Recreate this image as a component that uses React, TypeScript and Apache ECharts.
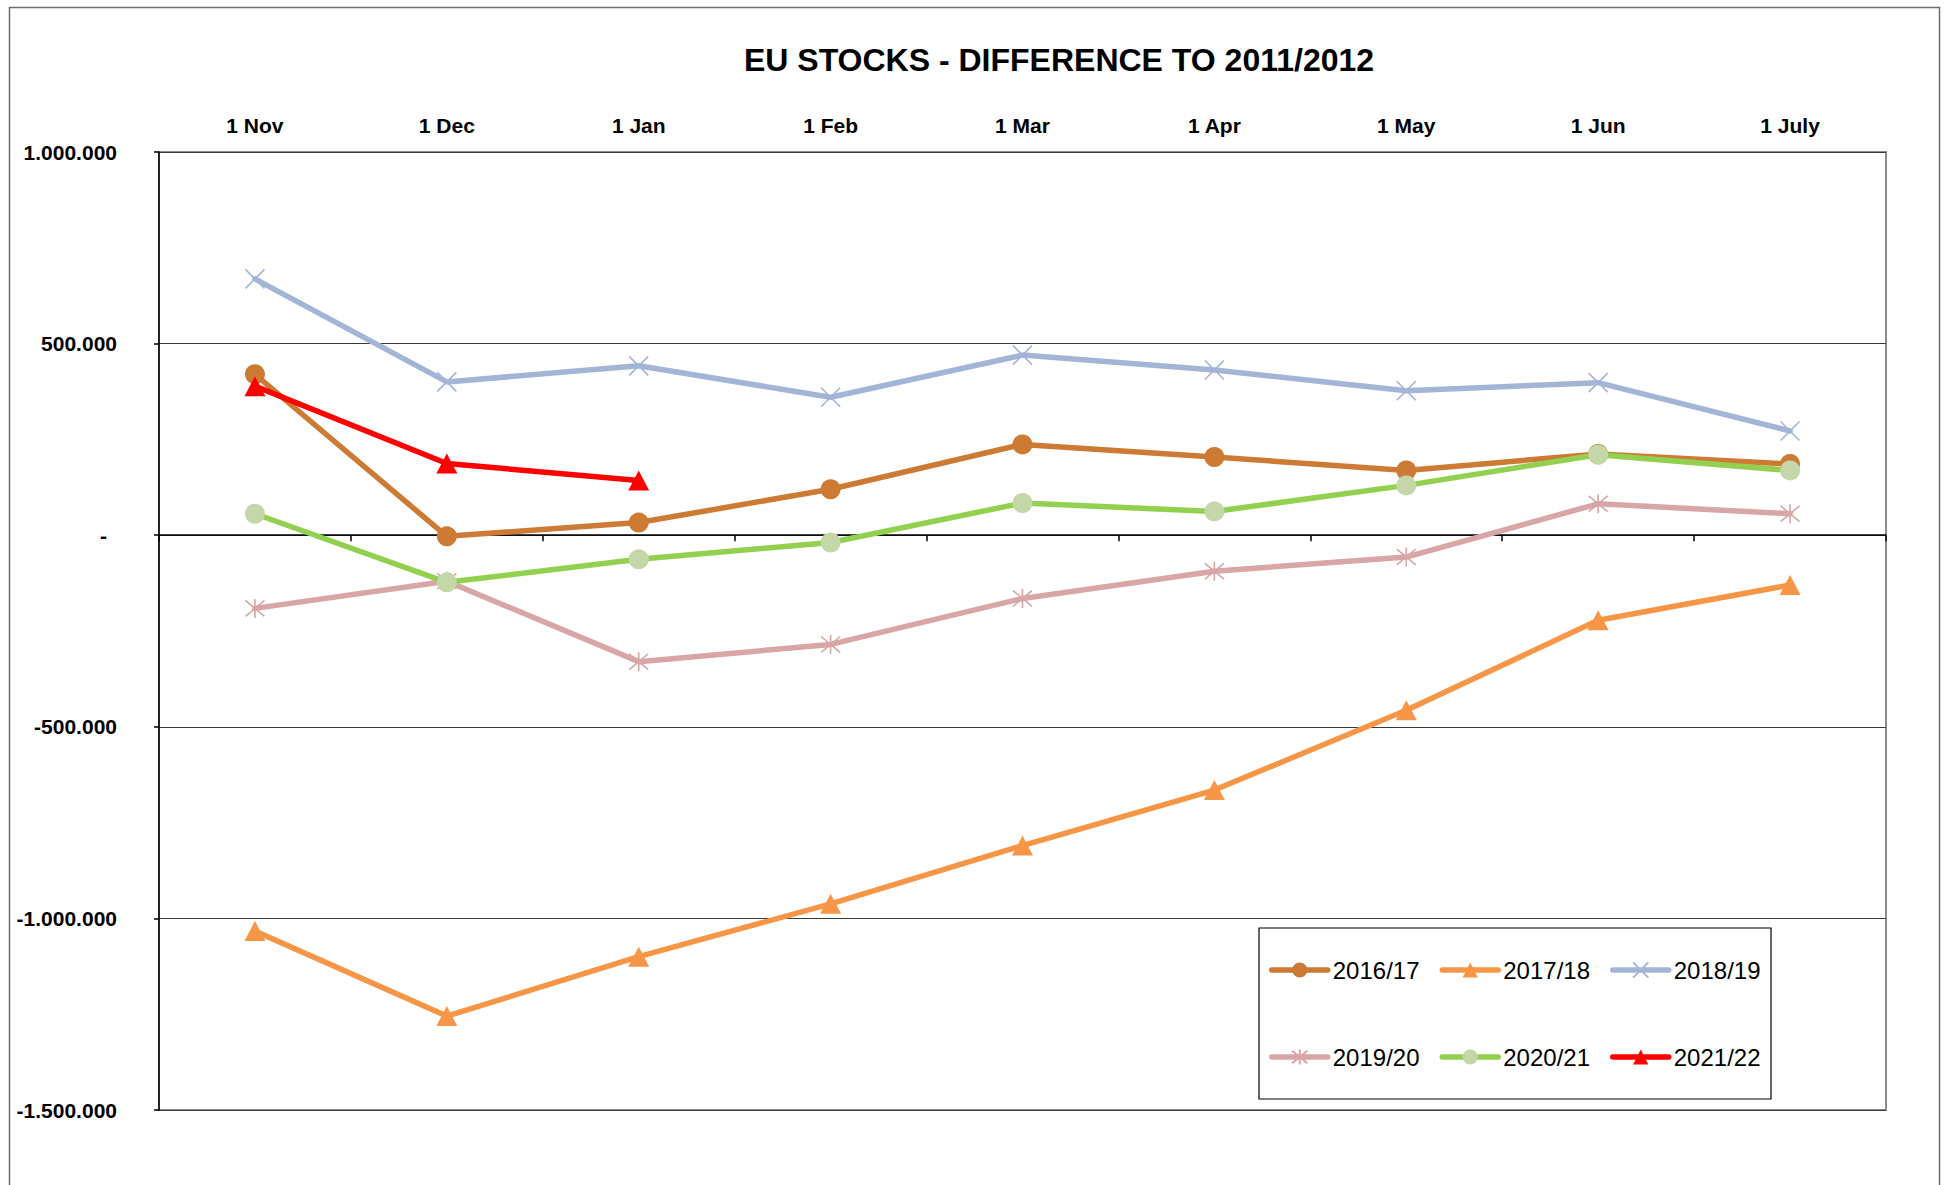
import React, { useEffect, useRef } from "react";
import * as echarts from "echarts";

const TITLE = "EU STOCKS - DIFFERENCE TO 2011/2012";
const categories = ["1 Nov", "1 Dec", "1 Jan", "1 Feb", "1 Mar", "1 Apr", "1 May", "1 Jun", "1 July"];
const seriesNames = ["2016/17", "2017/18", "2018/19", "2019/20", "2020/21", "2021/22"];
const s1617 = [420000, -3000, 33000, 120000, 237000, 204000, 169000, 212000, 186000];
const s1718 = [-1033000, -1255000, -1100000, -962000, -810000, -665000, -457000, -222000, -130000];
const s1819 = [669000, 400000, 442000, 360000, 470000, 431000, 377000, 398000, 272000];
const s1920 = [-191000, -120000, -330000, -285000, -165000, -94000, -57000, 82000, 56000];
const s2021 = [56000, -123000, -63000, -19000, 84000, 62000, 130000, 210000, 169000];
const s2122 = [389000, 187000, 143000, null, null, null, null, null, null];
const yMin = -1500000;
const yMax = 1000000;
const yStep = 500000;

const FONT = "'Liberation Sans', Arial, sans-serif";
const X_PATH = "path://M0,0L10,10M10,0L0,10";
const STAR_PATH = "path://M0,0L10,10M10,0L0,10M5,-1L5,11";

function fmtY(v: number): string {
  if (v === 0) return "{z|-}";
  const s = Math.abs(v).toString().replace(/\B(?=(\d{3})+(?!\d))/g, ".");
  return (v < 0 ? "-" : "") + s;
}

export default function App() {
  const ref = useRef<HTMLDivElement>(null);
  useEffect(() => {
    if (!ref.current) return;
    const chart = echarts.init(ref.current, undefined, { renderer: "svg" });
    const mk = (
      name: string,
      data: (number | null)[],
      lineColor: string,
      markerColor: string,
      symbol: string,
      symbolSize: number | number[],
      border?: number
    ) => ({
      name,
      type: "line",
      data,
      xAxisIndex: 0,
      symbol,
      symbolSize,
      showSymbol: true,
      connectNulls: false,
      lineStyle: { color: lineColor, width: 5.5, cap: "round", join: "round" },
      itemStyle: border
        ? { color: markerColor, borderColor: markerColor, borderWidth: border }
        : { color: markerColor, borderWidth: 0 },
      emphasis: { disabled: true },
    });
    const legendCommon = {
      orient: "horizontal",
      left: 1269,
      padding: 0,
      itemWidth: 56,
      itemHeight: 19,
      itemGap: 20,
      selectedMode: false,
      z: 20,
      lineStyle: { width: 5.5, cap: "round" },
      textStyle: { fontFamily: FONT, fontSize: 24, color: "#000" },
    };
    chart.setOption({
      animation: false,
      backgroundColor: "#fff",
      grid: {
        left: 159,
        right: 63,
        top: 152,
        bottom: 75,
        show: true,
        borderColor: "#8c8c8c",
        borderWidth: 2,
        backgroundColor: "transparent",
      },
      legend: [
        { ...legendCommon, top: 958, data: seriesNames.slice(0, 3) },
        { ...legendCommon, top: 1045, data: seriesNames.slice(3, 6) },
      ],
      xAxis: [
        {
          type: "category",
          data: categories,
          position: "top",
          boundaryGap: true,
          axisLine: { show: false, onZero: false },
          axisTick: { show: false },
          splitLine: { show: false },
          axisLabel: { fontFamily: FONT, fontSize: 21, fontWeight: "bold", color: "#000", margin: 16 },
        },
        {
          type: "category",
          data: categories,
          position: "bottom",
          boundaryGap: true,
          axisLine: { show: true, onZero: true, lineStyle: { color: "#000", width: 1.5 } },
          axisTick: { show: true, length: 6, lineStyle: { color: "#000", width: 1.5 } },
          axisLabel: { show: false },
          splitLine: { show: false },
        },
      ],
      yAxis: {
        type: "value",
        min: yMin,
        max: yMax,
        interval: yStep,
        axisLine: { show: true, onZero: false, lineStyle: { color: "#000", width: 1.5 } },
        axisTick: { show: true, length: 5, lineStyle: { color: "#000", width: 1.5 } },
        splitLine: { show: true, lineStyle: { color: "#3a3a3a", width: 1 } },
        axisLabel: {
          formatter: fmtY,
          fontFamily: FONT,
          fontSize: 21,
          fontWeight: "bold",
          color: "#000",
          margin: 42,
          rich: { z: { fontFamily: FONT, fontSize: 21, fontWeight: "bold", color: "#000", padding: [0, 10, 0, 0] } },
        },
      },
      graphic: [
        {
          type: "rect",
          left: 7,
          top: 5,
          shape: { x: 0, y: 0, width: 1930, height: 1300 },
          style: { fill: "none", stroke: "#6e6e6e", lineWidth: 1.5 },
          silent: true,
          z: -10,
        },
        {
          type: "rect",
          shape: { x: 1259, y: 928, width: 512, height: 171 },
          style: { fill: "#fff", stroke: "#000", lineWidth: 1.2 },
          silent: true,
          z: 3,
        },
        {
          type: "text",
          x: 1059,
          y: 60,
          style: {
            text: TITLE,
            fontFamily: FONT,
            fontSize: 32,
            fontWeight: "bold",
            fill: "#000",
            align: "center",
            verticalAlign: "middle",
          },
          silent: true,
        },
      ],
      series: [
        mk(seriesNames[0], s1617, "#CD7B34", "#CD7B34", "circle", 20),
        mk(seriesNames[1], s1718, "#F79646", "#F79646", "triangle", [21, 20]),
        mk(seriesNames[2], s1819, "#A3B5D6", "#A3B5D6", X_PATH, 19, 1.6),
        mk(seriesNames[3], s1920, "#D8A6A6", "#D8A6A6", STAR_PATH, 19, 1.6),
        mk(seriesNames[4], s2021, "#92D050", "#C4D7A8", "circle", 20),
        mk(seriesNames[5], s2122, "#FF0000", "#FF0000", "triangle", [21, 20]),
      ],
    });
    return () => chart.dispose();
  }, []);
  return (
    <div
      ref={ref}
      style={{ position: "absolute", left: 0, top: 0, width: 1949, height: 1185, overflow: "hidden" }}
    />
  );
}
